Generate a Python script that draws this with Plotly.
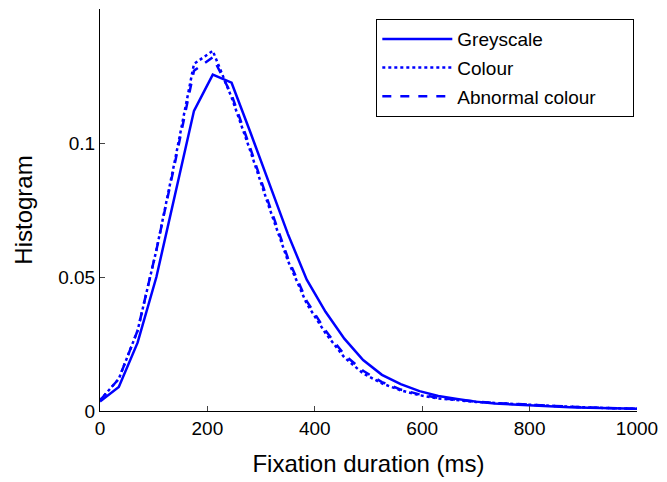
import plotly.graph_objects as go

duration_ms = [0, 35, 70, 105, 140, 175, 210, 245, 280, 315, 350, 385, 420, 455, 490,
               525, 560, 595, 630, 665, 700, 735, 770, 805, 840, 875, 910, 945, 980, 1000]

greyscale = [0.0035, 0.009, 0.0255, 0.050, 0.081, 0.112, 0.1255, 0.1225, 0.104, 0.085,
             0.066, 0.049, 0.037, 0.027, 0.019, 0.0135, 0.010, 0.0074, 0.0056, 0.0045,
             0.0035, 0.0028, 0.0024, 0.0020, 0.0017, 0.0014, 0.0012, 0.0010, 0.0009, 0.0008]

colour = [0.004, 0.012, 0.030, 0.060, 0.094, 0.1295, 0.1344, 0.117, 0.097, 0.076,
          0.056, 0.040, 0.029, 0.020, 0.014, 0.0103, 0.0077, 0.0059, 0.0047, 0.0040,
          0.0034, 0.0030, 0.0026, 0.0022, 0.0019, 0.0016, 0.0013, 0.0011, 0.0009, 0.0008]

abnormal = [0.004, 0.012, 0.030, 0.060, 0.093, 0.127, 0.132, 0.118, 0.098, 0.077,
            0.057, 0.041, 0.030, 0.021, 0.015, 0.0108, 0.0080, 0.0062, 0.0049, 0.0041,
            0.0035, 0.0030, 0.0026, 0.0022, 0.0019, 0.0016, 0.0013, 0.0011, 0.0009, 0.0008]

x_ticks = [0, 200, 400, 600, 800, 1000]
y_ticks = [0, 0.05, 0.1]
y_tick_labels = ["0", "0.05", "0.1"]

series = [("Greyscale", greyscale, "solid"),
          ("Colour", colour, "dot"),
          ("Abnormal colour", abnormal, "dash")]

fig = go.Figure()
for i, (name, vals, dash) in enumerate(series):
    fig.add_trace(go.Scatter(x=duration_ms, y=vals, mode="lines",
                             name=name + "\u00a0" * 6,
                             legendgroup=f"g{i}",
                             line=dict(color="#0000FF", width=2.5, dash=dash)))

font = "Liberation Sans, Arial, Helvetica, sans-serif"
fig.update_layout(
    width=667, height=482,
    margin=dict(l=100, r=25, t=9, b=66),
    paper_bgcolor="white", plot_bgcolor="white",
    font=dict(family=font, color="black", size=19),
    showlegend=True,
    legend=dict(x=0.995, y=0.975, xanchor="right", yanchor="top",
                bordercolor="black", borderwidth=1, bgcolor="white",
                font=dict(size=19), tracegroupgap=1, itemwidth=70),
    xaxis=dict(range=[0, 1000], tickvals=x_ticks, ticks="inside", ticklen=5,
               showline=True, linecolor="black", linewidth=1, showgrid=False,
               zeroline=False,
               title=dict(text="Fixation duration (ms)", font=dict(size=24), standoff=17),
               tickfont=dict(size=19)),
    yaxis=dict(range=[0, 0.15], tickvals=y_ticks, ticktext=y_tick_labels,
               ticks="inside", ticklen=5, showline=True, linecolor="black",
               linewidth=1, showgrid=False, zeroline=False,
               title=dict(text="Histogram", font=dict(size=24), standoff=18),
               tickfont=dict(size=19)),
)

fig.write_html("out.html")
